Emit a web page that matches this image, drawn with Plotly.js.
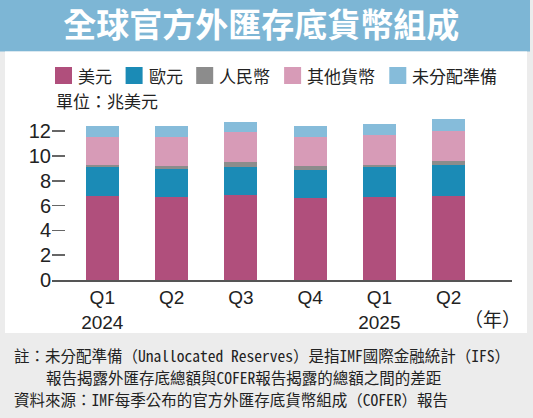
<!DOCTYPE html>
<html>
<head>
<meta charset="utf-8">
<script src="https://cdn.plot.ly/plotly-3.0.1.min.js"></script>
<style>
  html, body { margin: 0; padding: 0; background: #ececec; }
  #chart { width: 533px; height: 418px; }
</style>
</head>
<body>
<div id="chart"></div>
<script>
// 全球官方外匯存底貨幣組成（兆美元），數值由圖上估讀
const periods  = ['2024Q1', '2024Q2', '2024Q3', '2024Q4', '2025Q1', '2025Q2'];
const quarters = ['Q1', 'Q2', 'Q3', 'Q4', 'Q1', 'Q2'];
const years    = ['2024', '', '', '', '2025', ''];

const usd         = [6.80, 6.66, 6.85, 6.58, 6.66, 6.80];
const eur         = [2.29, 2.29, 2.24, 2.32, 2.43, 2.50];
const cny         = [0.21, 0.25, 0.40, 0.30, 0.21, 0.30];
const others      = [2.24, 2.34, 2.43, 2.32, 2.38, 2.40];
const unallocated = [0.92, 0.89, 0.86, 0.91, 0.89, 0.97];

const seriesNames  = ['美元', '歐元', '人民幣', '其他貨幣', '未分配準備'];
const seriesValues = [usd, eur, cny, others, unallocated];
const seriesColors = ['#b04f7c', '#1b8bb6', '#8c8c8c', '#d79bb7', '#86bcda'];

const W = 533, H = 418;
const M = { l: 52, r: 21, t: 116, b: 138 };
const plotW = W - M.l - M.r, plotH = H - M.t - M.b;
// pixel -> paper coordinates
const px = x => (x - M.l) / plotW;
const py = y => (H - M.b - y) / plotH;

const cjk = '"Noto Sans CJK TC", "Noto Sans CJK SC", sans-serif';
const mono = '"Noto Sans Mono CJK TC", "Noto Sans CJK TC", monospace';
const latin = '"Liberation Sans", Arial, sans-serif';

let traces = seriesNames.map((name, i) => ({
  type: 'bar',
  name: name,
  x: periods,
  y: seriesValues[i],
  marker: { color: seriesColors[i], line: { width: 0 } },
  hoverinfo: 'name+y'
}));

// background panels
let shapes = [
  { type: 'rect', xref: 'paper', yref: 'paper', layer: 'below',
    x0: px(0), x1: px(530), y0: py(51.5), y1: py(0),
    fillcolor: '#7db6d5', line: { width: 0 } },
  { type: 'rect', xref: 'paper', yref: 'paper', layer: 'below',
    x0: px(5), x1: px(527), y0: py(333), y1: py(51.5),
    fillcolor: '#ffffff', line: { width: 0 } }
];

let annotations = [];

// hand made legend: square + label
let lx = 55;
seriesNames.forEach((name, i) => {
  shapes.push({
    type: 'rect', xref: 'paper', yref: 'paper',
    x0: px(lx), x1: px(lx + 17), y0: py(84), y1: py(67),
    fillcolor: seriesColors[i], line: { width: 0 }
  });
  annotations.push({
    xref: 'paper', yref: 'paper', x: px(lx + 21), y: py(75.5),
    xanchor: 'left', yanchor: 'middle', showarrow: false,
    text: name, font: { family: cjk, size: 17, color: '#222' }
  });
  lx += 36 + name.length * 17.3;
});

annotations.push(
  { xref: 'paper', yref: 'paper', x: px(54), y: py(100.5),
    xanchor: 'left', yanchor: 'middle', showarrow: false,
    text: '單位：兆美元', font: { family: cjk, size: 17, color: '#222' } },
  { xref: 'paper', yref: 'paper', x: px(492), y: py(318),
    xanchor: 'center', yanchor: 'middle', showarrow: false,
    text: '（年）', font: { family: cjk, size: 19, color: '#222' } },
  { xref: 'paper', yref: 'paper', x: px(12), y: py(355),
    xanchor: 'left', yanchor: 'middle', showarrow: false,
    text: '註：未分配準備（Unallocated Reserves）是指IMF國際金融統計（IFS）',
    font: { family: mono, size: 15.5, color: '#222' } },
  { xref: 'paper', yref: 'paper', x: px(44), y: py(377),
    xanchor: 'left', yanchor: 'middle', showarrow: false,
    text: '報告揭露外匯存底總額與COFER報告揭露的總額之間的差距',
    font: { family: mono, size: 15.5, color: '#222' } },
  { xref: 'paper', yref: 'paper', x: px(12), y: py(399),
    xanchor: 'left', yanchor: 'middle', showarrow: false,
    text: '資料來源：IMF每季公布的官方外匯存底貨幣組成（COFER）報告',
    font: { family: mono, size: 15.5, color: '#222' } }
);

let layout = {
  width: W, height: H,
  margin: M,
  paper_bgcolor: '#ececec',
  plot_bgcolor: 'rgba(0,0,0,0)',
  barmode: 'stack',
  bargap: 0.524,
  showlegend: false,
  title: {
    text: '<b>全球官方外匯存底貨幣組成</b>',
    font: { family: cjk, size: 33, color: '#ffffff' },
    x: 0.49, xref: 'container', xanchor: 'center',
    y: 1 - 25 / H, yref: 'container', yanchor: 'middle'
  },
  xaxis: {
    type: 'category',
    range: [-0.726, 5.915],
    tickvals: periods,
    ticktext: quarters.map((q, i) => years[i] ? q + '<br>' + years[i] : q),
    tickfont: { family: latin, size: 19, color: '#222' },
    showline: true, linecolor: '#555', linewidth: 1.5,
    ticks: '', showgrid: false, zeroline: false,
    fixedrange: true
  },
  yaxis: {
    range: [0, plotH / 12.4],
    tickvals: [0, 2, 4, 6, 8, 10, 12],
    tickfont: { family: latin, size: 20, color: '#222' },
    ticks: 'inside', ticklen: 13, tickwidth: 1.5, tickcolor: '#666',
    showline: false, showgrid: false, zeroline: false,
    fixedrange: true
  },
  shapes: shapes,
  annotations: annotations
};

Plotly.newPlot('chart', traces, layout, { displayModeBar: false, staticPlot: true });
</script>
</body>
</html>
